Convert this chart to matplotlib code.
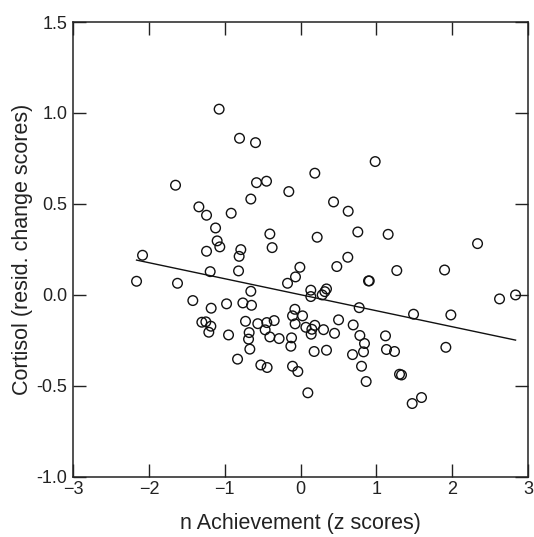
import matplotlib
matplotlib.use('Agg')
import matplotlib.pyplot as plt
import numpy as np

plt.rcParams['font.family'] = ['Liberation Sans', 'DejaVu Sans']

# n Achievement (z scores) vs cortisol residual change scores
x_upper_left = [-1.075, -0.806, -0.595, -1.650, -0.582, -0.450, -0.156, -0.657, -1.342, -1.241,
                -0.916, -1.122, -0.406, -1.101, -1.066, -0.376, -1.241, -0.789, -0.811, -2.085,
                -1.193, -0.819, -2.164, -1.624, -0.173, -0.068, -0.010, -0.657]
y_upper_left = [1.021, 0.861, 0.837, 0.603, 0.617, 0.625, 0.568, 0.527, 0.484, 0.438,
                0.449, 0.368, 0.335, 0.297, 0.264, 0.260, 0.240, 0.249, 0.212, 0.218,
                0.128, 0.132, 0.075, 0.064, 0.064, 0.099, 0.152, 0.020]

x_upper_right = [0.187, 0.983, 0.434, 0.627, 0.218, 0.754, 1.154, 2.333, 0.622, 0.477,
                 1.268, 1.898, 0.895, 0.905, 0.134, 0.341, 0.319, 0.284, 0.134, 2.623, 2.834]
y_upper_right = [0.669, 0.733, 0.511, 0.460, 0.317, 0.346, 0.333, 0.282, 0.207, 0.156,
                 0.134, 0.137, 0.077, 0.077, 0.026, 0.033, 0.018, 0.000, -0.009, -0.022, 0.000]

x_lower_left = [-1.422, -1.180, -0.977, -0.762, -0.648, -1.303, -1.250, -1.184, -1.211, -0.951,
                -0.727, -0.565, -0.446, -0.349, -0.679, -0.468, -0.406, -0.284, -0.687, -0.670,
                -0.832, -0.525, -0.442, -0.076, -0.107, -0.073, -0.120, -0.129, -0.107, -0.037]
y_lower_left = [-0.031, -0.073, -0.049, -0.044, -0.057, -0.150, -0.148, -0.172, -0.205, -0.220,
                -0.145, -0.158, -0.152, -0.141, -0.207, -0.192, -0.231, -0.240, -0.243, -0.298,
                -0.353, -0.385, -0.399, -0.079, -0.115, -0.159, -0.236, -0.282, -0.392, -0.421]

x_lower_right = [0.772, 1.489, 1.981, 0.025, 0.069, 0.187, 0.148, 0.139, 0.302, 0.500,
                 0.693, 0.447, 0.781, 0.842, 0.829, 0.684, 1.119, 1.132, 1.238, 1.915,
                 0.178, 0.341, 0.803, 0.864, 1.304, 1.330, 0.095, 1.471, 1.594]
y_lower_right = [-0.070, -0.106, -0.110, -0.115, -0.178, -0.167, -0.189, -0.216, -0.191, -0.137,
                 -0.165, -0.211, -0.223, -0.267, -0.313, -0.328, -0.225, -0.300, -0.311, -0.288,
                 -0.311, -0.304, -0.392, -0.476, -0.436, -0.440, -0.538, -0.597, -0.564]

# regression line
fit_intercept = 0.001
fit_slope = -0.088

x_all = np.array(x_upper_left + x_upper_right + x_lower_left + x_lower_right)
y_all = np.array(y_upper_left + y_upper_right + y_lower_left + y_lower_right)

ink = '#222222'

fig = plt.figure(figsize=(5.34, 5.37), dpi=100)
ax = fig.add_axes([0.137, 0.112, 0.852, 0.847])

ax.scatter(x_all, y_all, s=48, facecolors='none', edgecolors='#111111', linewidths=1.0, zorder=3)

line_x = np.array([x_all.min(), x_all.max()])
ax.plot(line_x, fit_intercept + fit_slope * line_x, color='#111111', linewidth=1.0, zorder=2)

ax.set_xlim(-3, 3)
ax.set_ylim(-1.0, 1.5)
ax.set_xticks([-3, -2, -1, 0, 1, 2, 3])
ax.set_yticks([-1.0, -0.5, 0.0, 0.5, 1.0, 1.5])
ax.set_yticklabels(['-1.0', '-0.5', '0.0', '0.5', '1.0', '1.5'])

ax.tick_params(axis='both', direction='in', length=9.5, width=1.0, color=ink,
               labelsize=13, labelcolor=ink, top=True, right=True)
ax.tick_params(axis='x', pad=3)
ax.tick_params(axis='y', pad=4)
for sp in ax.spines.values():
    sp.set_color(ink)
    sp.set_linewidth(1.1)

ax.set_xlabel('n Achievement (z scores)', fontsize=15.5, color=ink, labelpad=11)
ax.set_ylabel('Cortisol (resid. change scores)', fontsize=15.5, color=ink, labelpad=3)

fig.savefig('out.png', dpi=100)
